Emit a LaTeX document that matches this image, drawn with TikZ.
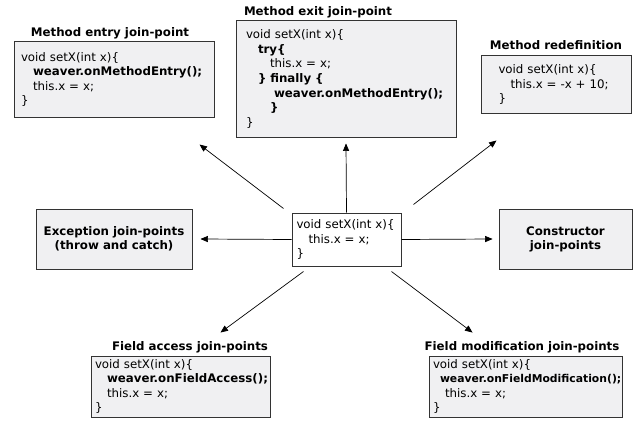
\documentclass[tikz,border=0pt]{standalone}
\usepackage{fontspec}
\setmainfont{DejaVu Sans}
\usetikzlibrary{arrows}
\definecolor{boxgray}{RGB}{240,240,242}
\newcommand{\ind}[1]{\hspace*{#1pt}}

\begin{document}
\begin{tikzpicture}[
            x=1pt, y=-1pt,
            codebox/.style={rectangle, draw=black!80, line width=1pt, fill=boxgray, align=left, inner ysep=0pt, font=\fontsize{11.8}{14.6}\selectfont},
            plainbox/.style={rectangle, draw=black!80, line width=1pt, fill=white, align=left, inner ysep=0pt, font=\fontsize{11.8}{14.6}\selectfont},
            labelbox/.style={rectangle, draw=black!80, line width=1pt, fill=boxgray, align=center, font=\fontsize{11.8}{14}\selectfont\bfseries},
            title/.style={font=\fontsize{11.8}{13}\selectfont\bfseries, inner sep=0pt},
            link/.style={->, >=triangle 45, line width=0.7pt}
        ]
        \useasboundingbox (0,0) rectangle (640,428);

        % Original method
        \node[plainbox, text width=100pt, inner xsep=4.5pt, minimum height=53pt] (orig) at (346.5,239.5)
            {void setX(int x)\{\\ \ind{12}this.x = x;\\ \}};

        % Method entry
        \node[codebox, text width=186pt, inner xsep=7pt, minimum height=75pt] (entry) at (114,79.5)
            {void setX(int x)\{\\ \ind{12}\textbf{weaver.onMethodEntry();}\\ \ind{12}this.x = x;\\ \}};
        \node[title] (entrytitle) at (110,33) {Method entry join-point};

        % Method exit
        \node[codebox, text width=200pt, inner xsep=10pt, minimum height=116pt] (exit) at (346,79)
            {void setX(int x)\{\\ \ind{12}\textbf{try\{}\\ \ind{24}this.x = x;\\ \ind{12}\textbf{\} finally \{}\\ \ind{28}\textbf{weaver.onMethodEntry();}\\ \ind{24}\textbf{\}}\\ \}};
        \node[title] (exittitle) at (318,12) {Method exit join-point};

        % Method redefinition
        \node[codebox, text width=115pt, inner xsep=17.5pt, minimum height=57pt] (redef) at (556,84.5)
            {void setX(int x)\{\\ \ind{12}this.x = -x + 10;\\ \}};
        \node[title] (redeftitle) at (556,45) {Method redefinition};

        % Exception and constructor
        \node[labelbox, minimum width=156pt, minimum height=60pt] (exc) at (114,239)
            {Exception join-points\\(throw and catch)};
        \node[labelbox, minimum width=133pt, minimum height=60pt] (ctor) at (565.5,239)
            {Constructor\\join-points};

        % Field access
        \node[codebox, text width=171pt, inner xsep=4pt, minimum height=61pt] (facc) at (180.5,386.5)
            {void setX(int x)\{\\ \ind{12}\textbf{weaver.onFieldAccess();}\\ \ind{12}this.x = x;\\ \}};
        \node[title] (facctitle) at (190,347) {Field access join-points};

        % Field modification
        \node[codebox, text width=185pt, inner xsep=4pt, minimum height=61pt] (fmod) at (525.5,386.5)
            {void setX(int x)\{\\ \ind{7}{\fontsize{10.8}{14.6}\selectfont\textbf{weaver.onFieldModification();}}\\ \ind{12}this.x = x;\\ \}};
        \node[title] (fmodtitle) at (522,347) {Field modification join-points};

        % Connections
        \draw[link] (orig.north) -- ([yshift=-6pt]exit.south);
        \draw[link] ([xshift=-8pt,yshift=4pt]orig.north west) -- ([xshift=-15pt,yshift=-27pt]entry.south east);
        \draw[link] ([xshift=12pt,yshift=8pt]orig.north east) -- ([xshift=16pt,yshift=-27pt]redef.south west);
        \draw[link] (orig.west) -- ([xshift=8pt]exc.east);
        \draw[link] (orig.east) -- ([xshift=-6pt]ctor.west);
        \draw[link] ([xshift=12pt,yshift=-5pt]orig.south west) -- ([xshift=130pt,yshift=23pt]facc.north west);
        \draw[link] ([xshift=-10pt,yshift=-5pt]orig.south east) -- ([xshift=44pt,yshift=23pt]fmod.north west);

    \end{tikzpicture}
\end{document}
